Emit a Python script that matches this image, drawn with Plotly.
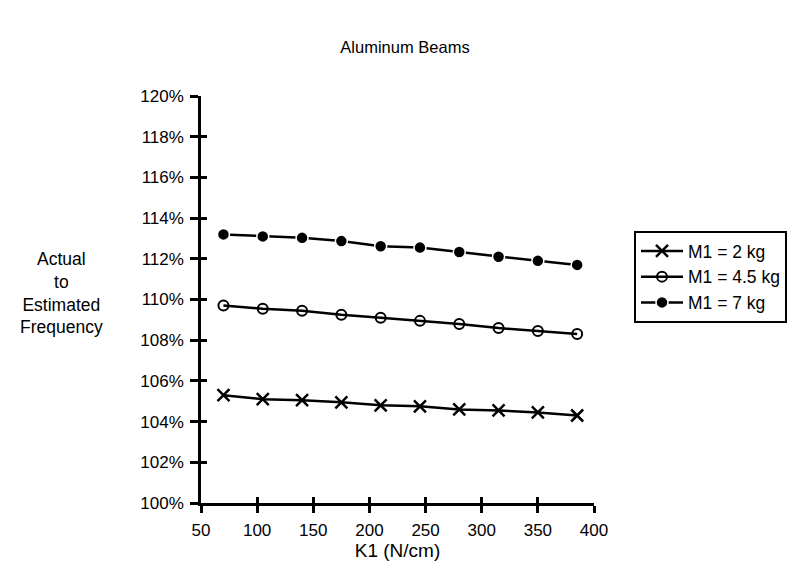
import plotly.graph_objects as go

k1 = [70, 105, 140, 175, 210, 245, 280, 315, 350, 385]
m1_2kg = [1.053, 1.051, 1.0505, 1.0495, 1.048, 1.0475, 1.046, 1.0455, 1.0445, 1.043]
m1_45kg = [1.097, 1.0955, 1.0945, 1.0925, 1.091, 1.0895, 1.088, 1.086, 1.0845, 1.083]
m1_7kg = [1.132, 1.131, 1.1303, 1.1287, 1.1262, 1.1255, 1.1233, 1.1210, 1.1190, 1.1170]
names = ["M1 = 2 kg", "M1 = 4.5 kg", "M1 = 7 kg"]
y_ticks = [1.00, 1.02, 1.04, 1.06, 1.08, 1.10, 1.12, 1.14, 1.16, 1.18, 1.20]
x_ticks = [50, 100, 150, 200, 250, 300, 350, 400]
ylabel_lines = ["Actual", "to", "Estimated", "Frequency"]

FONT = "Liberation Sans, Arial, Helvetica, sans-serif"
OFF = 8  # default page body margin

fig = go.Figure()
styles = [
    dict(symbol="x-thin-open", size=12, color="black", line=dict(width=2.5, color="black")),
    dict(symbol="circle-open", size=10, color="black", line=dict(width=2, color="black")),
    dict(symbol="circle", size=12, color="black", line=dict(width=1.5, color="white")),
]
for name, vals, st in zip(names, [m1_2kg, m1_45kg, m1_7kg], styles):
    fig.add_trace(go.Scatter(
        x=k1, y=vals, name=name, mode="lines+markers",
        line=dict(color="black", width=2.5),
        marker=st, hoverinfo="skip",
    ))

# invisible trace to carry the overlay axes (for crossing ticks)
fig.add_trace(go.Scatter(x=[k1[0]], y=[m1_7kg[0]], xaxis="x2", yaxis="y2",
                         mode="markers", marker=dict(opacity=0), showlegend=False,
                         hoverinfo="skip"))

tick_common = dict(showgrid=False, zeroline=False, tickcolor="black", tickwidth=2.5)

L, R, T, B = 201, 594, 96, 503

fig.update_layout(
    width=812, height=574,
    margin=dict(l=L - OFF, r=812 - R + OFF, t=T - OFF, b=574 - B + OFF),
    paper_bgcolor="white", plot_bgcolor="white",
    font=dict(family=FONT, size=17, color="black"),
    title=dict(text="Aluminum Beams", x=(405 - OFF) / 812, xref="container", xanchor="center",
               y=1 - (47 - OFF) / 574, yref="container", yanchor="middle",
               font=dict(size=16.5, family=FONT, color="black")),
    xaxis=dict(range=[50, 400], tickvals=x_ticks, ticks="outside", ticklen=7,
               showline=True, linecolor="black", linewidth=2.5,
               tickfont=dict(size=17), ticklabelstandoff=3,
               title=dict(text="K1 (N/cm)", standoff=1, font=dict(size=19)),
               **tick_common),
    yaxis=dict(range=[1.00, 1.20], tickvals=y_ticks, tickformat=".0%", ticks="outside",
               ticklen=8, showline=True, linecolor="black", linewidth=2.5,
               tickfont=dict(size=17), ticklabelstandoff=3, **tick_common),
    xaxis2=dict(range=[50, 400], tickvals=x_ticks, ticks="inside", ticklen=6,
                overlaying="x", side="bottom", showticklabels=False, showline=False,
                **tick_common),
    yaxis2=dict(range=[1.00, 1.20], tickvals=y_ticks, ticks="inside", ticklen=6,
                overlaying="y", side="left", showticklabels=False, showline=False,
                **tick_common),
    legend=dict(x=(634 - L) / (R - L), y=(B - 231) / (B - T), xanchor="left", yanchor="top",
                bordercolor="black", borderwidth=2, bgcolor="white", itemwidth=42,
                font=dict(size=17.5, family=FONT, color="black")),
    annotations=[dict(text="<br>".join(ylabel_lines), xref="paper", yref="paper",
                      x=(61 - L) / (R - L), y=(B - 293) / (B - T),
                      xanchor="center", yanchor="middle", showarrow=False,
                      font=dict(size=17.5, family=FONT, color="black"))],
)

fig.write_html("out.html")
